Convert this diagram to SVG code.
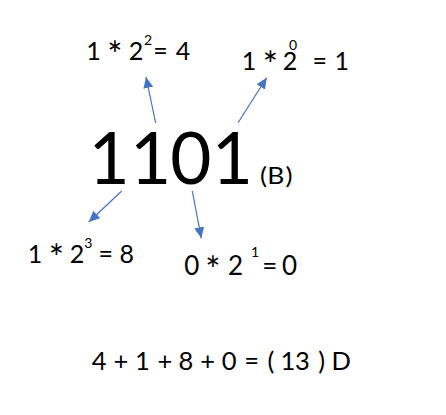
<svg xmlns="http://www.w3.org/2000/svg" width="446" height="415" viewBox="0 0 446 415">
<style>
text{font-family:Lato,"Open Sans","Liberation Sans",sans-serif;fill:#000;text-anchor:middle}
.lbl{font-size:25px}
.sup{font-size:14px}
.ast{font-size:36px}
.big{font-size:71px}
.b{font-size:23px}
.arr{stroke:#4472C4;stroke-width:1.2;fill:none;marker-end:url(#ah)}
</style>
<defs>
<marker id="ah" markerUnits="userSpaceOnUse" markerWidth="12" markerHeight="10" viewBox="0 0 12 10" refX="11" refY="5" orient="auto">
<path d="M0,0 L11,5 L0,10 Z" fill="#4472C4"/>
</marker>
</defs>
<rect width="446" height="415" fill="#fff"/>
<g id="connectors">
<line class="arr" x1="155.7" y1="123" x2="146" y2="77"/>
<line class="arr" x1="238" y1="122.7" x2="266.7" y2="77.7"/>
<line class="arr" x1="121.7" y1="191" x2="88.7" y2="222"/>
<line class="arr" x1="192.3" y1="191" x2="201.3" y2="238.3"/>
</g>
<g id="main">
<text class="big" y="184" x="109.2 150.5 190.8 232.3">1101</text>
<text class="b" transform="translate(275.8,183.5) scale(1.15,1)" y="0" x="-10.7 0 11.6">(B)</text>
</g>
<g id="bit2">
<text class="lbl" y="60"><tspan x="93.5 104">1 </tspan><tspan class="ast" x="115" y="68">*</tspan><tspan x="125 136" y="60"> 2</tspan><tspan class="sup" x="148" y="44.5">2</tspan><tspan x="160.5 172 183" y="60">= 4</tspan></text>
</g>
<g id="bit0">
<text class="lbl" y="70"><tspan x="249 260">1 </tspan><tspan class="ast" x="270.5" y="78">*</tspan><tspan x="280 290" y="70"> 2</tspan><tspan class="sup" x="293" y="49.5">0</tspan><tspan x="305 319.7 331 341.7" y="70"> = 1</tspan></text>
</g>
<g id="bit3">
<text class="lbl" y="262.5"><tspan x="35 45">1 </tspan><tspan class="ast" x="56.5" y="270.5">*</tspan><tspan x="66 77" y="262.5"> 2</tspan><tspan class="sup" x="88.3" y="248">3</tspan><tspan x="95 105.8 116 126.7" y="262.5"> = 8</tspan></text>
</g>
<g id="bit1">
<text class="lbl" style="font-size:26px" y="275"><tspan x="191.7 203">0 </tspan><tspan class="ast" x="213" y="283">*</tspan><tspan x="225 235.5 245" y="275"> 2 </tspan><tspan class="sup" x="255" y="256.5">1</tspan><tspan x="269.7 280 289.5" y="275">= 0</tspan></text>
</g>
<g id="sum">
<text class="lbl" style="font-size:25.5px" y="370" x="99.2 110 121 132 142.5 154 165 175 185.8 197 207.7 218 229.2 240 251.7 261 270.8 279 288 302.5 312 321.7 331 341.3">4 + 1 + 8 + 0 = ( 13 ) D</text>
</g>
</svg>
